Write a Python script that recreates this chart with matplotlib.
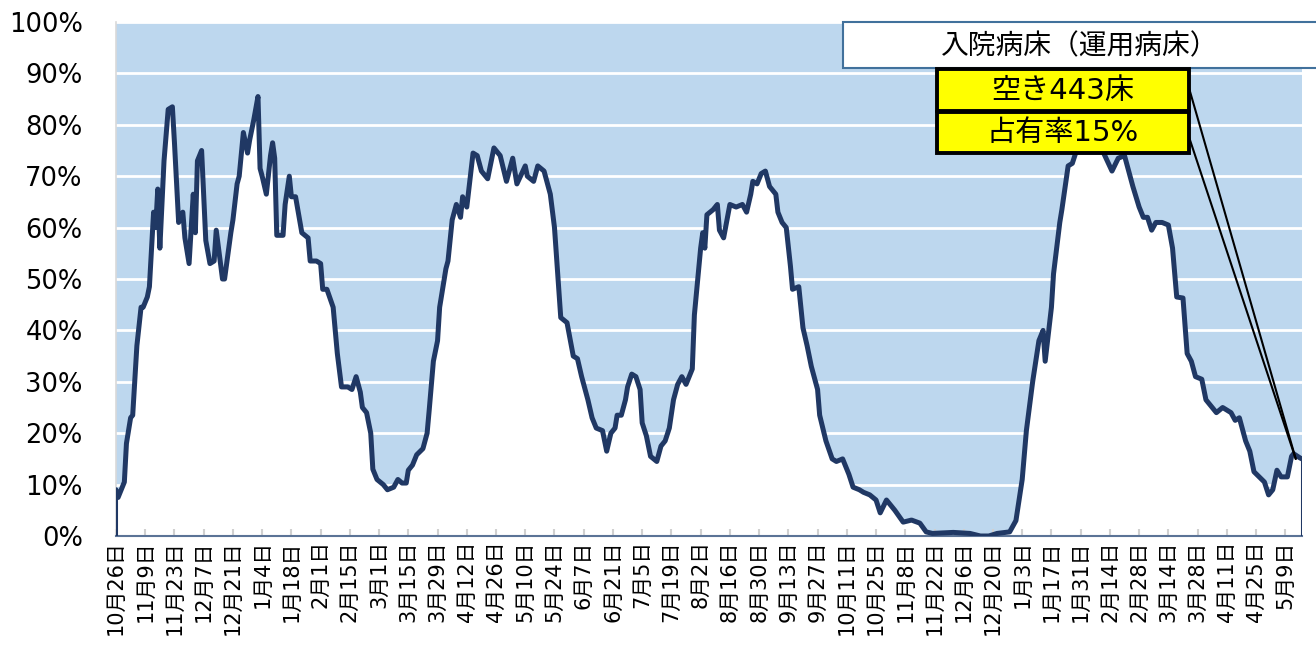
import matplotlib
matplotlib.use("Agg")
import matplotlib.pyplot as plt
from matplotlib.patches import Rectangle

plt.rcParams['font.family'] = ['DejaVu Sans', 'Noto Sans CJK JP']

# days counted from 10月26日, bed occupancy in %
days = [0, 1, 3, 4, 5, 7, 8, 10, 12, 13, 15, 16, 18, 19, 20, 21, 23, 25, 27, 28,
        30, 32, 33, 35, 37, 38, 39, 41, 43, 45, 47, 48, 51, 52, 55, 56, 58, 59, 61, 63,
        64, 66, 68, 69, 70, 72, 74, 75, 76, 77, 80, 81, 83, 84, 86, 89, 92, 93, 96, 98,
        99, 101, 104, 106, 108, 111, 113, 115, 117, 118, 120, 122, 123, 125, 128, 130, 133, 135, 137, 139,
        140, 142, 144, 147, 149, 150, 152, 154, 155, 158, 159, 161, 163, 165, 166, 168, 170, 171, 173, 175,
        178, 180, 181, 184, 187, 190, 192, 196, 197, 200, 202, 205, 208, 210, 213, 216, 219, 221, 223, 226,
        228, 230, 233, 235, 237, 239, 240, 242, 244, 245, 247, 249, 251, 252, 254, 256, 259, 261, 263, 265,
        267, 269, 271, 273, 274, 276, 277, 280, 281, 282, 283, 286, 288, 289, 291, 294, 297, 300, 302, 304,
        305, 307, 309, 311, 313, 316, 317, 319, 321, 323, 324, 327, 329, 331, 333, 336, 337, 340, 343, 345,
        348, 351, 353, 356, 358, 361, 364, 366, 369, 373, 377, 381, 385, 388, 391, 401, 409, 414, 418, 422,
        428, 431, 434, 436, 439, 442, 444, 445, 448, 449, 452, 453, 456, 458, 460, 464, 469, 472, 473, 477,
        480, 483, 485, 487, 490, 492, 494, 496, 498, 501, 504, 506, 508, 511, 513, 515, 517, 520, 522, 525,
        527, 530, 532, 534, 536, 538, 541, 543, 545, 548, 550, 552, 554, 556, 558, 561, 563, 564, 567, 568]
occupancy = [9.0, 7.5, 9.5, 10.5, 18, 23, 23.5, 37, 44.5, 44.5, 46.5, 48.5, 63, 60, 67.5, 56, 73, 83, 83.5, 76.5,
             61, 63, 58, 53, 66.5, 59, 73, 75, 57.5, 53, 53.5, 59.5, 50, 50, 59, 61.5, 68.5, 70, 78.5, 74.5,
             77, 81, 85.5, 71.5, 70, 66.5, 74, 76.5, 73.5, 58.5, 58.5, 64.5, 70, 66, 66, 59, 58, 53.5, 53.5, 53,
             48, 48, 44.5, 35.5, 29, 29, 28.5, 31, 28, 25, 24, 20, 13, 11, 10, 9, 9.5, 11, 10.3, 10.3,
             12.8, 13.8, 15.8, 17, 20, 24.5, 34, 38, 44.5, 52, 53.5, 61.5, 64.5, 62, 66, 64, 71, 74.5, 74, 71,
             69.5, 73.5, 75.5, 74, 69, 73.5, 68.5, 72, 70, 69, 72, 71, 66.5, 60, 42.5, 41.5, 35, 34.5, 31, 26.5,
             23, 21, 20.5, 16.5, 20, 21, 23.5, 23.5, 26.5, 29, 31.5, 31, 28.5, 22, 19.5, 15.5, 14.5, 17.5, 18.5, 21,
             26.5, 29.5, 31, 29.5, 30.5, 32.5, 43, 56, 59, 56, 62.5, 63.5, 64.5, 59.5, 58, 64.5, 64, 64.5, 63, 66.5,
             69, 68.5, 70.5, 71, 68, 66.5, 63, 61, 60, 52.5, 48, 48.5, 40.5, 37, 33, 28.5, 23.5, 18.5, 15, 14.5,
             15, 12, 9.5, 9, 8.5, 8, 7, 4.5, 7, 5, 2.7, 3.1, 2.5, 0.8, 0.5, 0.7, 0.5, 0, 0, 0.5,
             0.8, 3, 11, 20.5, 30, 38, 40, 34, 44.5, 51, 61, 63.5, 72, 72.5, 75, 78, 80, 77, 74.5, 71,
             73.5, 74, 71, 68, 64, 62, 62, 59.5, 61, 61, 60.5, 56, 46.5, 46.3, 35.5, 34, 31, 30.5, 26.5, 25,
             24, 25, 24.5, 24, 22.5, 23, 18.5, 16.5, 12.5, 11.3, 10.5, 8, 9, 12.8, 11.5, 11.5, 15.5, 16, 15.2, 15]

tick_days = list(range(0, 561, 14))
tick_labels = ['10月26日', '11月9日', '11月23日', '12月7日', '12月21日', '1月4日', '1月18日', '2月1日',
               '2月15日', '3月1日', '3月15日', '3月29日', '4月12日', '4月26日', '5月10日', '5月24日',
               '6月7日', '6月21日', '7月5日', '7月19日', '8月2日', '8月16日', '8月30日', '9月13日',
               '9月27日', '10月11日', '10月25日', '11月8日', '11月22日', '12月6日', '12月20日', '1月3日',
               '1月17日', '1月31日', '2月14日', '2月28日', '3月14日', '3月28日', '4月11日', '4月25日', '5月9日']
y_ticks = list(range(0, 101, 10))

title = '入院病床（運用病床）'
vacant_text = '空き443床'
rate_text = '占有率15%'

W, H = 1316, 653
fig = plt.figure(figsize=(W / 100, H / 100), dpi=100)
ax = fig.add_axes([116 / W, 1 - 536 / H, (1302 - 116) / W, (536 - 22) / H])
ax.set_facecolor('#BDD7EE')

navy = '#203864'
ax.fill_between(days, occupancy, 0, color='white', zorder=1, lw=0)
ax.plot(days, occupancy, color=navy, lw=3.6, zorder=3, solid_joinstyle='round', solid_capstyle='round')
ax.vlines([days[0], days[-1]], 0, [occupancy[0], occupancy[-1]], color=navy, lw=2.2, zorder=3)

ax.set_xlim(0, 568)
ax.set_ylim(0, 100)
ax.set_yticks(y_ticks)
ax.set_yticklabels([f'{v}%' for v in y_ticks], fontsize=18.5)
ax.grid(axis='y', color='white', lw=2)
ax.set_xticks(tick_days)
ax.set_xticklabels(tick_labels, rotation=90, fontsize=15, va='top')
ax.tick_params(axis='y', length=0, pad=24)
ax.tick_params(axis='x', direction='in', length=5, color='#D0D0D0', width=1.5, pad=3)

for s in ['top', 'right']:
    ax.spines[s].set_visible(False)
ax.spines['bottom'].set_color('#5B7396')
ax.spines['bottom'].set_linewidth(1.5)
ax.spines['left'].set_color('#D9D9D9')
ax.spines['left'].set_linewidth(1.2)

# title box + yellow labels
fig.add_artist(Rectangle((843 / W, 1 - 68 / H), 500 / W, 46 / H, transform=fig.transFigure,
                         facecolor='white', edgecolor='#41719C', lw=1.5, clip_on=False))
fig.text(1080 / W, 1 - 46 / H, title, fontsize=20, ha='center', va='center', family=['Noto Sans CJK JP'])
fig.add_artist(Rectangle((937 / W, 1 - 111 / H), 252 / W, 42 / H, transform=fig.transFigure,
                         facecolor='#FFFF00', edgecolor='black', lw=2.8))
fig.add_artist(Rectangle((937 / W, 1 - 153 / H), 252 / W, 41 / H, transform=fig.transFigure,
                         facecolor='#FFFF00', edgecolor='black', lw=2.8))
fig.text(1063 / W, 1 - 91 / H, vacant_text, fontsize=21, ha='center', va='center')
fig.text(1063 / W, 1 - 133 / H, rate_text, fontsize=21, ha='center', va='center')

for y0 in [88, 137]:
    ax.annotate('', xy=(days[-1] - 3, occupancy[-1]), xycoords='data',
                xytext=(1189 / W, 1 - y0 / H), textcoords='figure fraction',
                arrowprops=dict(arrowstyle='-', color='black', lw=1.5, shrinkA=0, shrinkB=0),
                annotation_clip=False, zorder=5)

fig.savefig('out.png', dpi=100)
